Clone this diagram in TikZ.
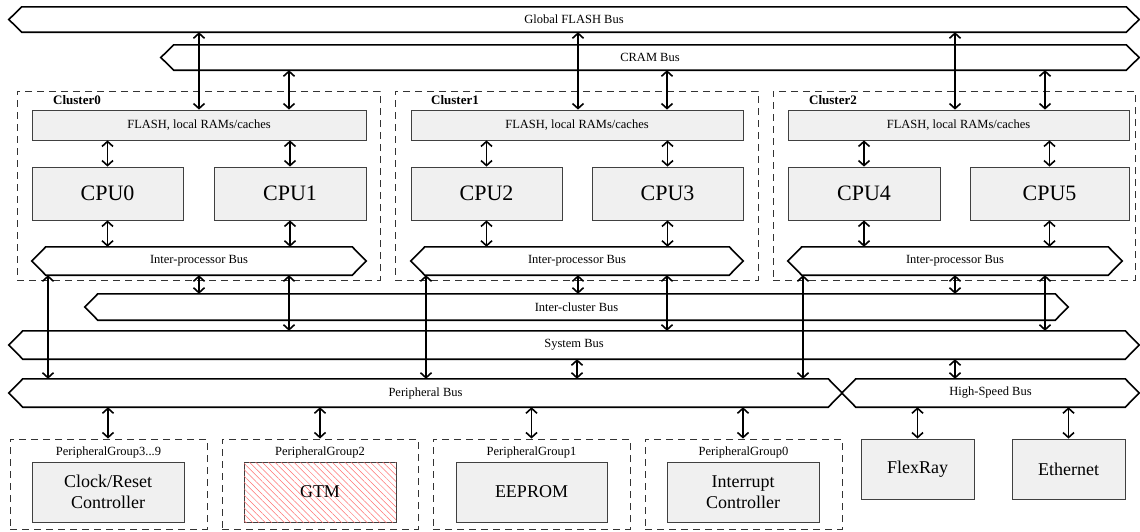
\documentclass[tikz,border=0pt]{standalone}
\usepackage{fontspec}
\setmainfont{Liberation Serif}
\usetikzlibrary{arrows.meta,patterns.meta}

\tikzset{
  busline/.style={line width=1.6pt, line join=miter},
  smalltext/.style={font=\fontsize{12.5}{14}\selectfont},
  unit/.style={draw=black!75, fill=black!6, line width=0.8pt, inner sep=0pt, align=center},
  bigunit/.style={unit, font=\fontsize{22}{24}\selectfont},
  midunit/.style={unit, font=\fontsize{18}{21}\selectfont},
  grp/.style={draw=black!80, dash pattern=on 7pt off 5pt, line width=0.9pt, inner sep=0pt},
  link/.style={line width=1.6pt,
    {Straight Barb[length=5pt,width=11pt]}-{Straight Barb[length=5pt,width=11pt]}},
}

% rectangular node given by its corners: style, name, x1, y1, x2, y2, text
\newcommand\place[7]{%
  \node[#1, minimum width={#5pt-#3pt}, minimum height={#6pt-#4pt}]
    (#2) at ({(#3+#5)/2},{(#4+#6)/2}) {#7};}

% bus with bevelled ends: name, left tip, right tip, top, bottom, bevel, label
\newcommand\bus[7]{%
  \node[smalltext, inner sep=0pt, minimum width={#3pt-#2pt}, minimum height={#5pt-#4pt}]
    (#1) at ({(#2+#3)/2},{(#4+#5)/2}) {#7};
  \draw[busline] (#1.west) -- ([xshift=#6pt]#1.north west)
    -- ([xshift=-#6pt]#1.north east) -- (#1.east)
    -- ([xshift=-#6pt]#1.south east) -- ([xshift=#6pt]#1.south west) -- cycle;}

\begin{document}
\begin{tikzpicture}[x=1pt, y=-1pt]
\useasboundingbox (0,0) rectangle (1140,531);

% global buses
\bus{gbus}{9}{1139}{7}{32}{13}{Global FLASH Bus}
\bus{cbus}{161}{1139}{45}{70}{13}{CRAM Bus}

% clusters
\place{grp}{cl0}{17}{91}{380}{280}{}
\place{grp}{cl1}{395}{91}{758}{280}{}
\place{grp}{cl2}{773}{91}{1135}{280}{}
\node[smalltext, font=\fontsize{13}{14}\selectfont\bfseries, anchor=base west, inner sep=0pt] (cl0t) at (53,104) {Cluster0};
\node[smalltext, font=\fontsize{13}{14}\selectfont\bfseries, anchor=base west, inner sep=0pt] (cl1t) at (431,104) {Cluster1};
\node[smalltext, font=\fontsize{13}{14}\selectfont\bfseries, anchor=base west, inner sep=0pt] (cl2t) at (809,104) {Cluster2};

\place{unit,smalltext}{f0}{32}{110}{366}{140}{FLASH, local RAMs/caches}
\place{unit,smalltext}{f1}{411}{110}{743}{140}{FLASH, local RAMs/caches}
\place{unit,smalltext}{f2}{788}{110}{1129}{140}{FLASH, local RAMs/caches}

\place{bigunit}{c0}{32}{167}{183}{220}{CPU0}
\place{bigunit}{c1}{214}{167}{366}{220}{CPU1}
\place{bigunit}{c2}{411}{167}{562}{220}{CPU2}
\place{bigunit}{c3}{592}{167}{743}{220}{CPU3}
\place{bigunit}{c4}{788}{167}{940}{220}{CPU4}
\place{bigunit}{c5}{970}{167}{1129}{220}{CPU5}

\bus{ipb0}{32}{366}{247}{275}{14}{Inter-processor Bus}
\bus{ipb1}{411}{743}{247}{275}{14}{Inter-processor Bus}
\bus{ipb2}{788}{1122}{247}{275}{14}{Inter-processor Bus}

% lower buses
\bus{icbus}{85}{1068}{294}{320}{13}{Inter-cluster Bus}
\bus{sbus}{9}{1139}{331}{359}{14}{System Bus}
\bus{pbus}{9}{842}{379}{407}{14}{Peripheral Bus}
\bus{hbus}{842}{1139}{379}{407}{14}{High-Speed Bus}

% peripheral groups
\place{grp}{pg3}{10}{439}{207}{529}{}
\place{grp}{pg2}{222}{439}{418}{529}{}
\place{grp}{pg1}{433}{439}{630}{529}{}
\place{grp}{pg0}{645}{439}{842}{529}{}
\node[smalltext] (pg3t) at (108.5,452) {PeripheralGroup3...9};
\node[smalltext] (pg2t) at (320,452) {PeripheralGroup2};
\node[smalltext] (pg1t) at (531.5,452) {PeripheralGroup1};
\node[smalltext] (pg0t) at (743.5,452) {PeripheralGroup0};

\place{midunit}{crc}{32}{462}{184}{522}{Clock/Reset\\Controller}
\place{midunit, fill=white, postaction={pattern={Lines[angle=-45,distance=4.5pt,line width=0.5pt]}, pattern color=red!55}}{gtm}{244}{462}{396}{522}{}
\node[font=\fontsize{18}{21}\selectfont] (gtmt) at (gtm.center) {GTM};
\place{midunit}{eep}{456}{462}{607}{522}{EEPROM}
\place{midunit}{irq}{667}{462}{819}{522}{Interrupt\\Controller}

\place{midunit}{flex}{861}{439}{974}{499}{FlexRay}
\place{midunit}{eth}{1012}{439}{1125}{499}{Ethernet}

% columns of the bus links
\coordinate (g0) at (199,0);  \coordinate (k0) at (289,0);  \coordinate (d0) at (48,0);
\coordinate (g1) at (578,0);  \coordinate (k1) at (667,0);  \coordinate (d1) at (426,0);
\coordinate (g2) at (955,0);  \coordinate (k2) at (1045,0); \coordinate (d2) at (803,0);
\coordinate (sp) at (577,0);  \coordinate (sh) at (955,0);

\foreach \i/\l/\r in {0/c0/c1, 1/c2/c3, 2/c4/c5} {
  \draw[link] (g\i |- gbus.south) -- (g\i |- f\i.north);
  \draw[link] (k\i |- cbus.south) -- (k\i |- f\i.north);
  \draw[link] (\l.north |- f\i.south) -- (\l.north);
  \draw[link] (\r.north |- f\i.south) -- (\r.north);
  \draw[link] (\l.south) -- (\l.south |- ipb\i.north);
  \draw[link] (\r.south) -- (\r.south |- ipb\i.north);
  \draw[link] (d\i |- ipb\i.south) -- (d\i |- pbus.north);
  \draw[link] (g\i |- ipb\i.south) -- (g\i |- icbus.north);
  \draw[link] (k\i |- ipb\i.south) -- (k\i |- sbus.north);
}
\draw[link] (sp |- sbus.south) -- (sp |- pbus.north);
\draw[link] (sh |- sbus.south) -- (sh |- hbus.north);

\foreach \g/\b in {pg3/crc, pg2/gtm, pg1/eep, pg0/irq}
  \draw[link] (\b.north |- pbus.south) -- (\b.north |- \g.north);
\draw[link] (flex.north |- hbus.south) -- (flex.north);
\draw[link] (eth.north |- hbus.south) -- (eth.north);
\end{tikzpicture}
\end{document}
